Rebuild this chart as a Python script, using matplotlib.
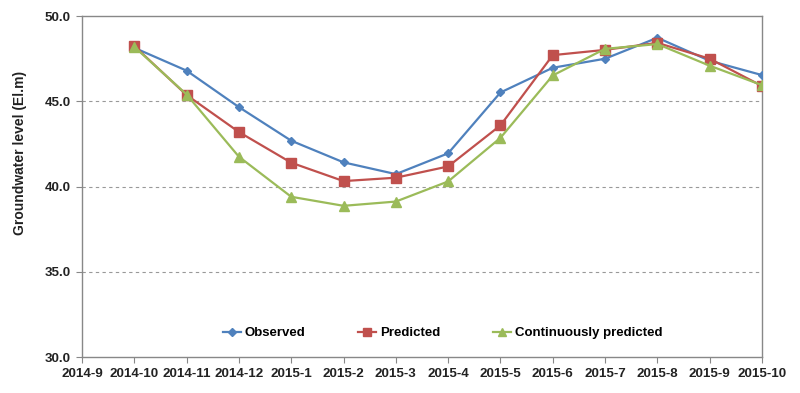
import matplotlib
matplotlib.use("Agg")
import matplotlib.pyplot as plt

months = ["2014-9", "2014-10", "2014-11", "2014-12", "2015-1", "2015-2", "2015-3",
          "2015-4", "2015-5", "2015-6", "2015-7", "2015-8", "2015-9", "2015-10"]
data_months = months[1:]
observed = [48.14, 46.8, 44.66, 42.69, 41.42, 40.73, 41.95, 45.52, 46.97, 47.5, 48.73, 47.38, 46.54]
predicted = [48.24, 45.37, 43.2, 41.4, 40.32, 40.52, 41.18, 43.59, 47.71, 48.02, 48.43, 47.5, 45.9]
continuous = [48.2, 45.4, 41.75, 39.4, 38.87, 39.12, 40.3, 42.86, 46.52, 48.08, 48.36, 47.09, 45.95]

plt.rcParams['font.family'] = ['Liberation Sans', 'DejaVu Sans']

fig = plt.figure(figsize=(8, 3.93), dpi=100)
ax = fig.add_axes([0.1025, 0.0916, 0.85, 0.8674])

x = list(range(len(months)))
xd = x[1:]
ax.plot(xd, observed, color='#4F81BD', marker='D', markersize=4.5, lw=1.6, label='Observed', zorder=3)
ax.plot(xd, predicted, color='#C0504D', marker='s', markersize=6.5, lw=1.6, label='Predicted', zorder=3)
ax.plot(xd, continuous, color='#9BBB59', marker='^', markersize=6.5, lw=1.6, label='Continuously predicted', zorder=3)

ax.set_xlim(0, len(months) - 1)
ax.set_ylim(30, 50)
ax.set_xticks(x)
ax.set_xticklabels(months)
ax.set_yticks([30, 35, 40, 45, 50])
ax.set_yticklabels([f"{v:.1f}" for v in [30, 35, 40, 45, 50]])
for lab in ax.get_xticklabels() + ax.get_yticklabels():
    lab.set_fontweight('bold')
    lab.set_fontsize(9.6)
    lab.set_color('#222222')

for v in [35, 40, 45]:
    ax.axhline(v, color='#999999', lw=0.8, ls=(0, (3, 3)), zorder=1)

for s in ax.spines.values():
    s.set_color('#888888')
    s.set_linewidth(1.0)
ax.tick_params(direction='out', length=4, color='#888888', pad=4)

ax.set_ylabel('Groundwater level (El.m)', fontsize=10, fontweight='bold', color='#222222')
ax.yaxis.set_label_coords(-0.081, 0.598)

ax.legend(loc='center', bbox_to_anchor=(0.53, 0.07), ncol=3, frameon=False,
          prop={'weight': 'bold', 'size': 9.5}, handlelength=1.4, handletextpad=0.25,
          columnspacing=4.0, markerscale=0.8)

fig.savefig('out.png', dpi=100)
